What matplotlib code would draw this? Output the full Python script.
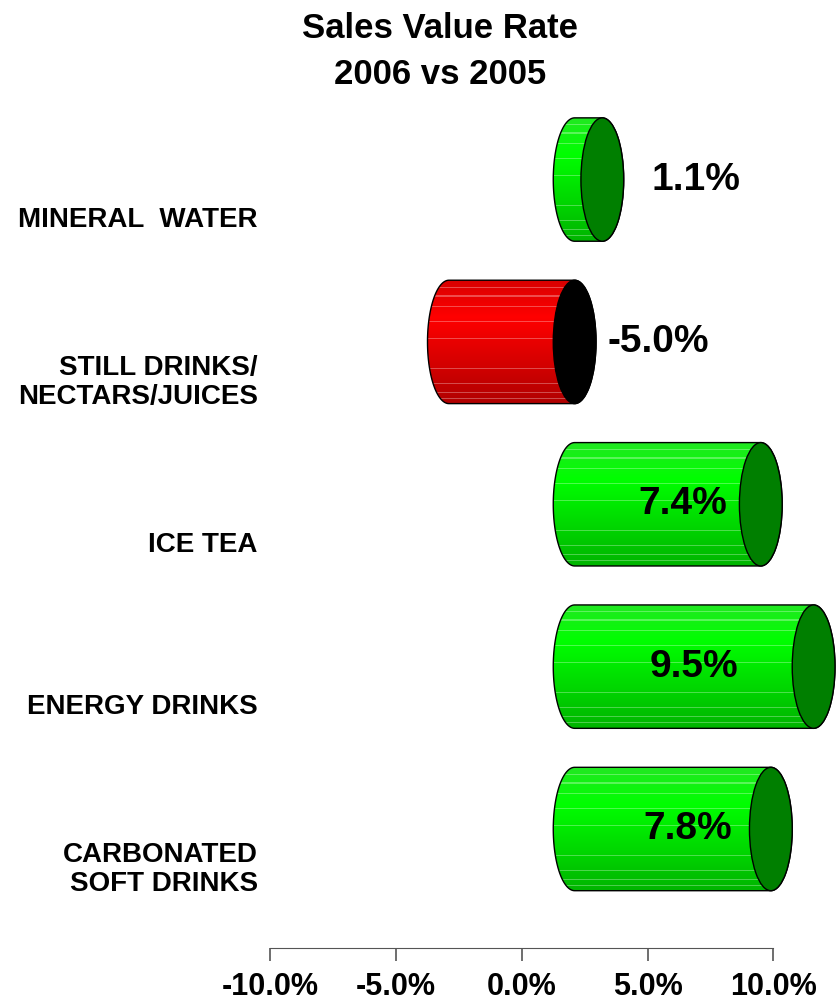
import numpy as np
import matplotlib.pyplot as plt
from matplotlib.patches import Polygon, Ellipse
from matplotlib.colors import to_rgb

plt.rcParams['font.family'] = ['Liberation Sans', 'DejaVu Sans']
plt.rcParams['font.weight'] = 'bold'

# data, bottom row first
categories = ['CARBONATED\nSOFT DRINKS', 'ENERGY DRINKS', 'ICE TEA',
              'STILL DRINKS/\nNECTARS/JUICES', 'MINERAL  WATER']
rates = [7.8, 9.5, 7.4, -5.0, 1.1]
ticks = [-10, -5, 0, 5, 10]

# 3D look of the cylinders
depth = 2.1     # horizontal shift of the drawing (in %)
face_w = 1.7    # width of the elliptical faces (in %)
bar_h = 0.76    # cylinder diameter (in category units)


def shade(c_top, c_mid, c_bot, n=120):
    t = np.linspace(0, 1, n)
    cols = np.array([to_rgb(c) for c in (c_top, c_mid, c_bot)])
    rgb = np.stack([np.interp(t, [0, 0.3, 1], cols[:, k]) for k in range(3)], axis=1)
    # thin light bands along the body
    for s in (0.06, 0.13, 0.21, 0.34, 0.47, 0.71, 0.84, 0.9, 0.95):
        i = int(s * n)
        rgb[i] = rgb[i] * 0.7 + 0.3
    return rgb[:, None, :]


def cylinder(ax, y, value):
    a = face_w / 2
    hh = bar_h / 2
    x0 = depth + min(value, 0)
    x1 = depth + max(value, 0)
    th_l = np.linspace(np.pi / 2, 3 * np.pi / 2, 80)
    th_r = np.linspace(-np.pi / 2, np.pi / 2, 80)
    xs = np.concatenate([x0 + a * np.cos(th_l), x1 + a * np.cos(th_r)])
    ys = np.concatenate([y + hh * np.sin(th_l), y + hh * np.sin(th_r)])
    body = Polygon(np.column_stack([xs, ys]), closed=True, facecolor='none',
                   edgecolor='black', lw=1.0, zorder=3)
    ax.add_patch(body)
    if value >= 0:
        img = shade('#22e822', '#00ff00', '#00b400')
        cap = '#007f00'
    else:
        img = shade('#d80000', '#ff0000', '#b00000')
        cap = 'black'
    im = ax.imshow(img, extent=[x0 - a, x1 + a, y - hh, y + hh], origin='upper',
                   aspect='auto', interpolation='nearest', zorder=2)
    im.set_clip_path(body)
    ax.add_patch(Ellipse((x1, y), face_w, bar_h, facecolor=cap,
                         edgecolor='black', lw=1.0, zorder=4))


fig = plt.figure(figsize=(8.36, 10.05), dpi=100)
ax = fig.add_axes([0.3233, 0.0567, 1 - 0.3233, 0.9005 - 0.0567])
ax.set_xlim(-10, 12.49)
ax.set_ylim(-0.733, 4.49)

for i, (cat, v) in enumerate(zip(categories, rates)):
    cylinder(ax, i, v)
    ax.text(-10.5, i - 0.25, cat, ha='right', va='center', fontsize=20,
            fontweight='bold', linespacing=1.15, clip_on=False)
    if v > 5:
        ax.text(min(depth + v / 2 + 0.6, 6.85), i, f'{v:.1f}%', ha='center',
                va='center', fontsize=28, fontweight='bold', zorder=5)
    else:
        gap = 1.1 if v > 0 else 0.45
        ax.text(depth + max(v, 0) + face_w / 2 + gap, i, f'{v:.1f}%', ha='left',
                va='center', fontsize=28, fontweight='bold', zorder=5)

ax.set_xticks(ticks)
ax.set_xticklabels([f'{t:.1f}%' for t in ticks], fontsize=22, fontweight='bold')
ax.set_yticks([])
for s in ('left', 'right', 'top'):
    ax.spines[s].set_visible(False)
ax.spines['bottom'].set_bounds(-10, 10)
ax.spines['bottom'].set_color('#555555')
ax.tick_params(axis='x', length=9, width=1.2, color='#555555', pad=8)

fig.text(440 / 836, 1 - 29 / 1005, 'Sales Value Rate', ha='center', va='center',
         fontsize=25, fontweight='bold')
fig.text(440 / 836, 1 - 74 / 1005, '2006 vs 2005', ha='center', va='center',
         fontsize=25, fontweight='bold')

fig.savefig('out.png', dpi=100)
